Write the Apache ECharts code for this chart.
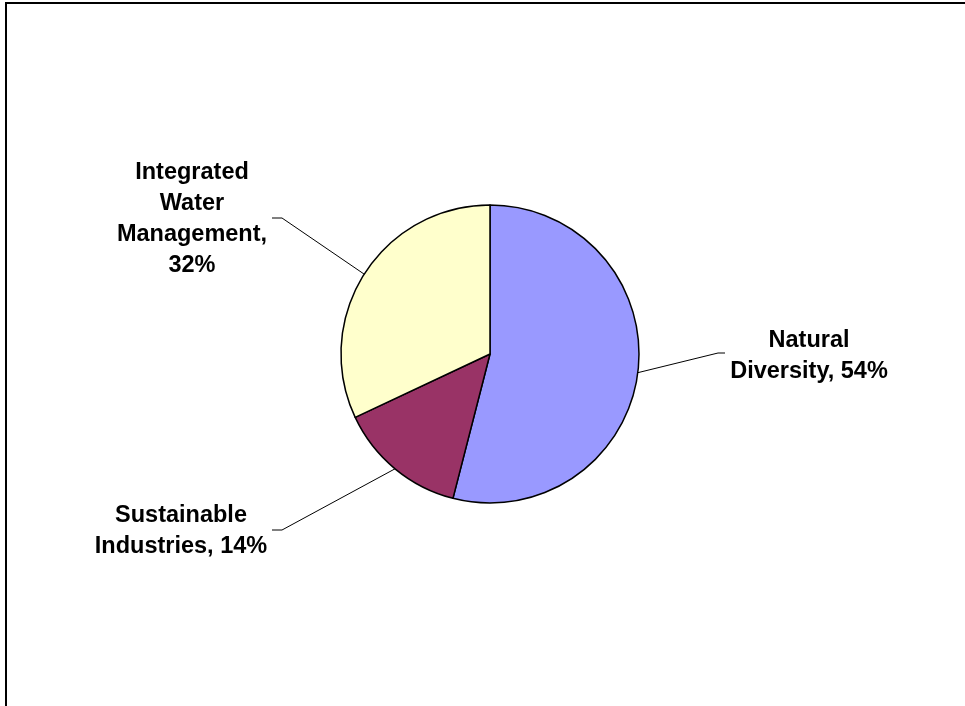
<!DOCTYPE html>
<html>
<head>
<meta charset="utf-8">
<script src="https://cdn.jsdelivr.net/npm/echarts@6/dist/echarts.min.js"></script>
<style>
html,body{margin:0;padding:0;background:#fff;}
#chart{width:965px;height:706px;}
</style>
</head>
<body>
<div id="chart"></div>
<script>
// ---- data ----
const categories = ['Natural Diversity', 'Sustainable Industries', 'Integrated Water Management'];
const values = [54, 14, 32];
// how each label is wrapped (text only)
const labelWrap = ['Natural\nDiversity, {p}%', 'Sustainable\nIndustries, {p}%', 'Integrated\nWater\nManagement,\n{p}%'];
const colors = ['#9999FF', '#993366', '#FFFFCC'];

// ---- label layout (styling) ----
const labelPlace = [
  { cx: 809, cy: 356, endX: 725, elbowX: 718, lineY: 353 },
  { cx: 181, cy: 531, endX: 272, elbowX: 282, lineY: 530 },
  { cx: 192, cy: 219, endX: 272, elbowX: 282, lineY: 218 }
];

const chart = echarts.init(document.getElementById('chart'), null, { renderer: 'canvas' });
chart.setOption({
  backgroundColor: '#ffffff',
  animation: false,
  graphic: [{
    type: 'rect',
    shape: { x: 6, y: 3, width: 1000, height: 1000 },
    style: { fill: 'none', stroke: '#000', lineWidth: 2 },
    silent: true
  }],
  series: [{
    type: 'pie',
    center: [490, 354],
    radius: 149,
    startAngle: 90,
    clockwise: true,
    avoidLabelOverlap: false,
    emphasis: { disabled: true },
    itemStyle: { borderColor: '#000', borderWidth: 1.5 },
    label: {
      show: true,
      position: 'outside',
      color: '#000',
      fontFamily: 'Liberation Sans, Arial, sans-serif',
      fontWeight: 'bold',
      fontSize: 23.5,
      lineHeight: 31,
      align: 'center',
      formatter: p => labelWrap[p.dataIndex].replace('{p}', Math.round(p.percent))
    },
    labelLine: {
      show: true,
      length: 20,
      length2: 10,
      lineStyle: { color: '#000', width: 1 }
    },
    labelLayout: function (params) {
      const L = labelPlace[params.dataIndex];
      const start = params.labelLinePoints ? params.labelLinePoints[0] : [0, 0];
      return {
        x: L.cx,
        y: L.cy,
        align: 'center',
        verticalAlign: 'middle',
        labelLinePoints: [start, [L.elbowX, L.lineY], [L.endX, L.lineY]]
      };
    },
    data: categories.map((c, i) => ({ name: c, value: values[i], itemStyle: { color: colors[i] } }))
  }]
});
</script>
</body>
</html>
